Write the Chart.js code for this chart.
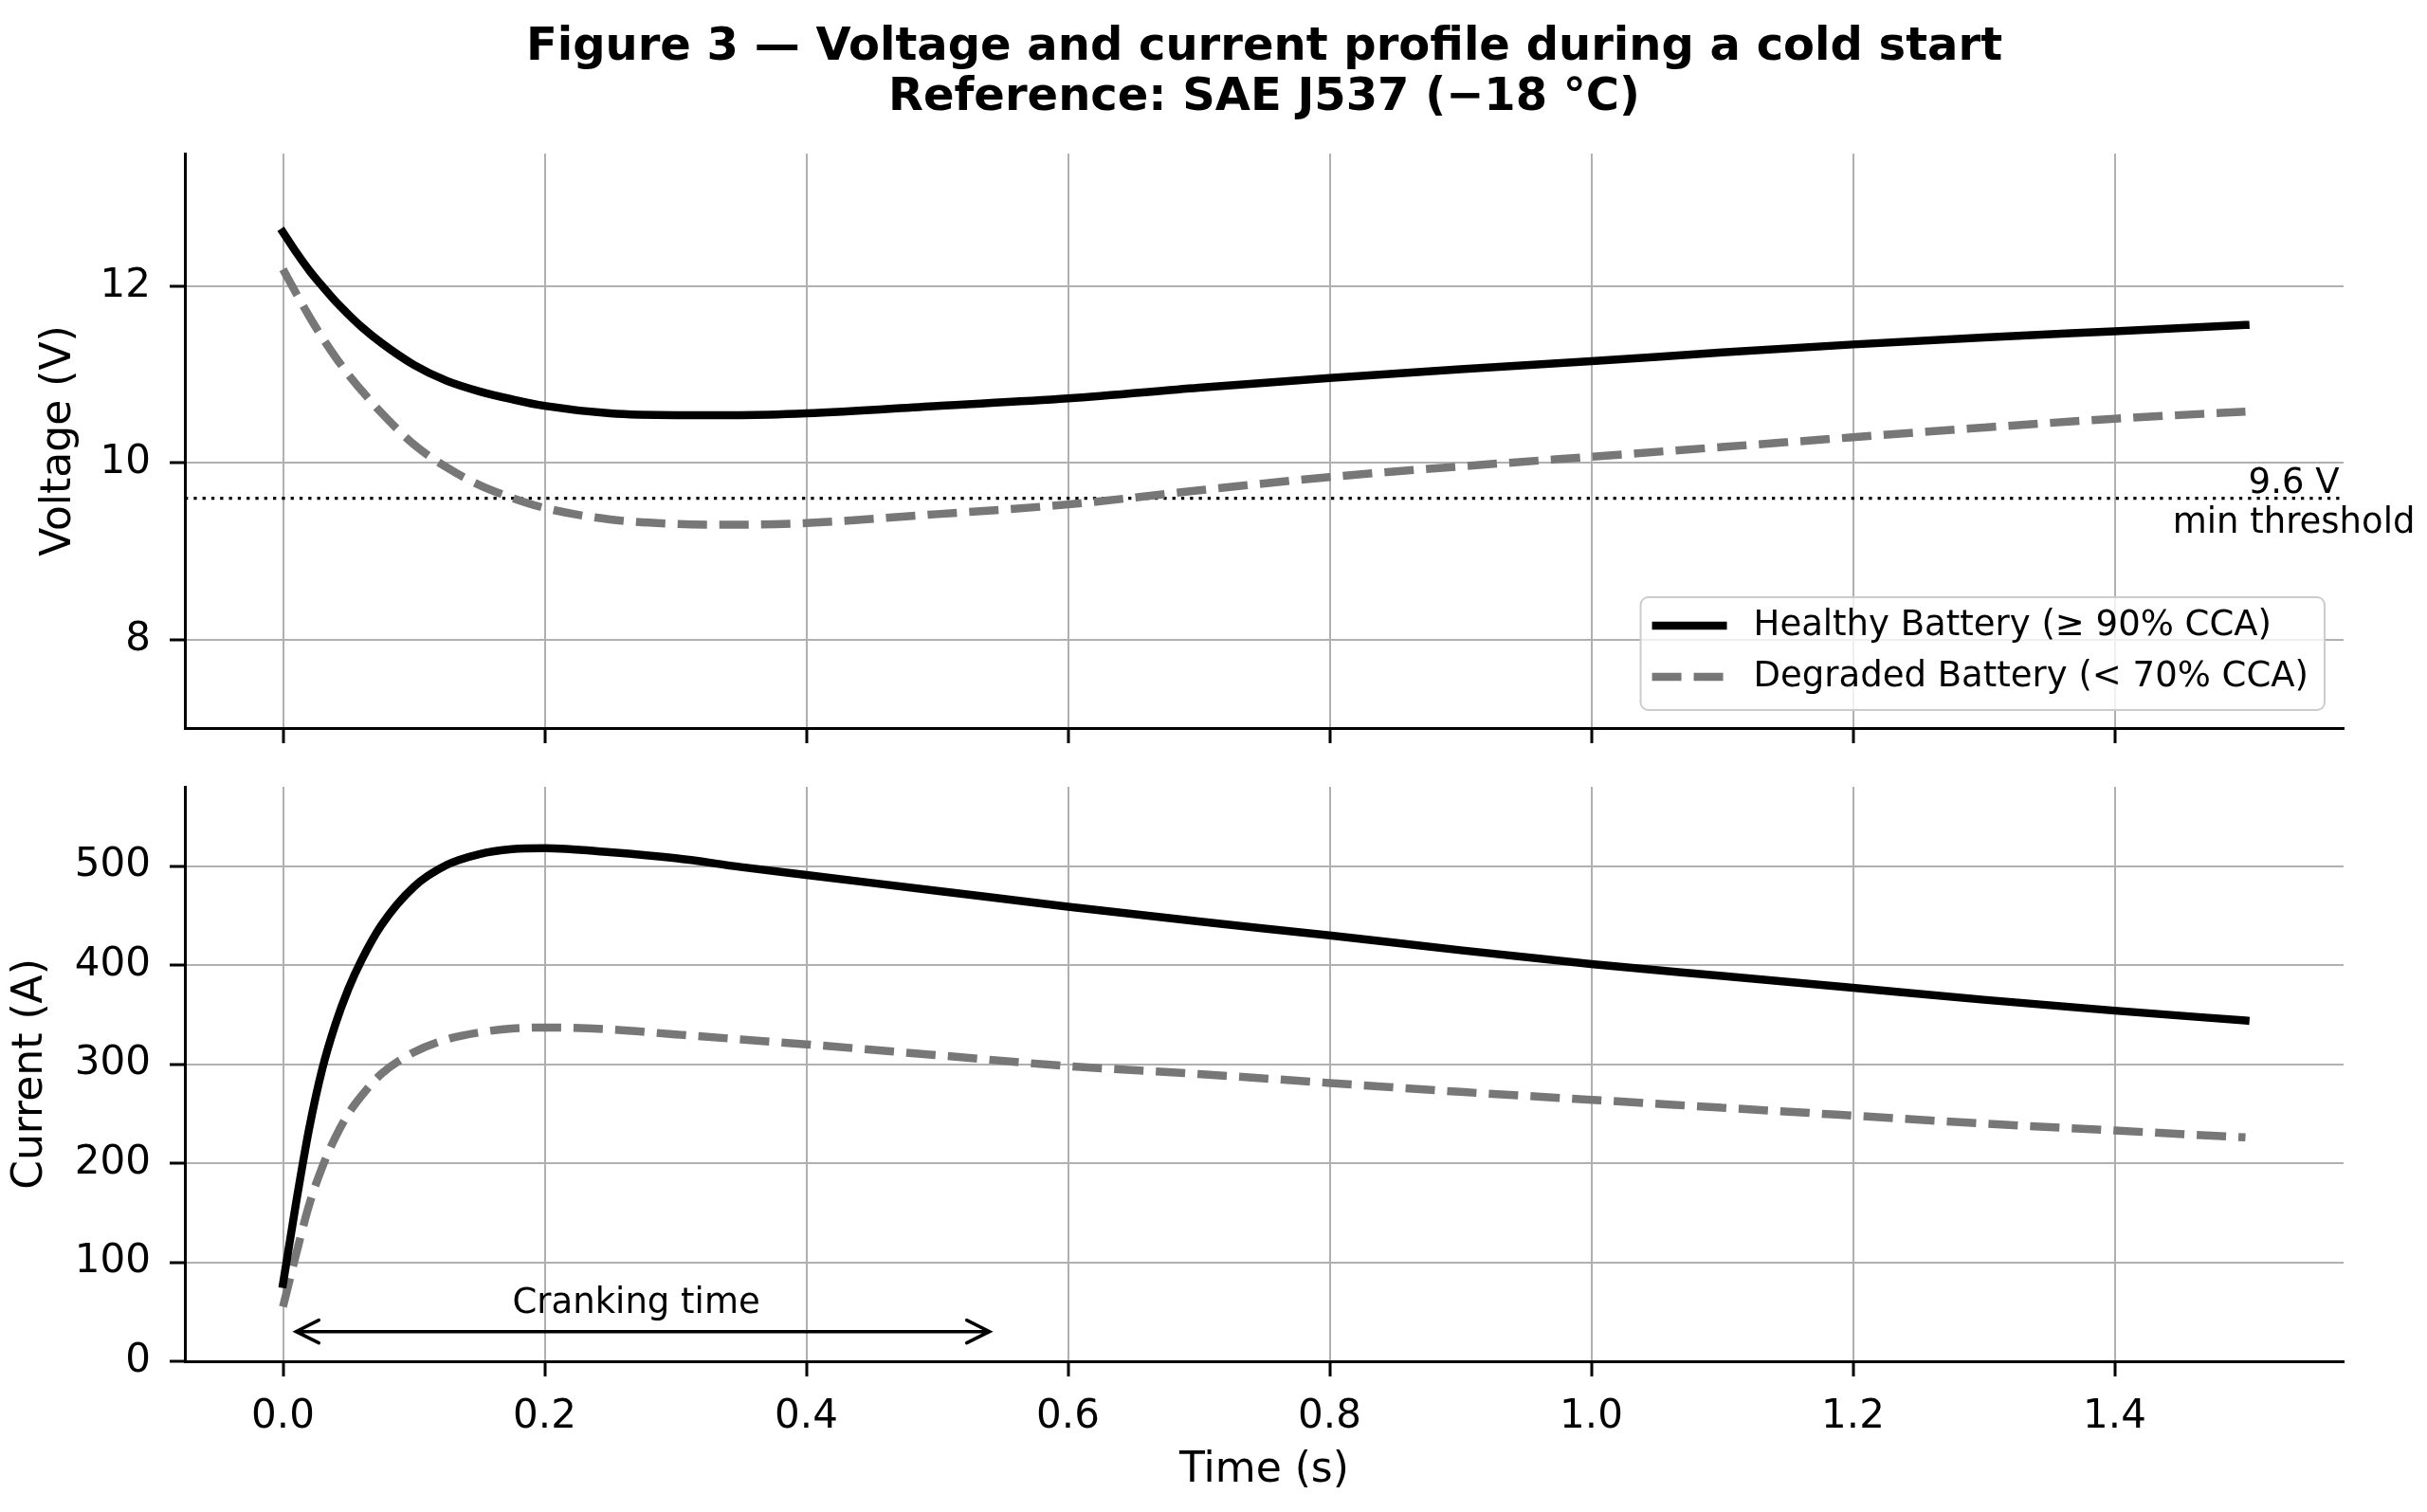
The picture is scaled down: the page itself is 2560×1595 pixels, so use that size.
<!DOCTYPE html>
<html>
<head>
<meta charset="utf-8">
<script src="https://cdn.jsdelivr.net/npm/chart.js@4.4.1/dist/chart.umd.min.js"></script>
<style>
html,body{margin:0;padding:0;background:#fff;}
body{width:2560px;height:1595px;position:relative;overflow:hidden;font-family:'DejaVu Sans',sans-serif;}
#title{position:absolute;left:195px;width:2277px;top:20px;text-align:center;font-weight:bold;font-size:48px;line-height:53px;color:#000;}
#top{position:absolute;left:0;top:0;}
#bot{position:absolute;left:0;top:800px;}
</style>
</head>
<body>
<canvas id="top" width="2560" height="800"></canvas>
<canvas id="bot" width="2560" height="795"></canvas>
<div id="title">Figure 3 — Voltage and current profile during a cold start<br>Reference: SAE J537 (−18 °C)</div>
<script>
// time axis (s) and the four traces
const TIME       = [0,0.01,0.02,0.03,0.04,0.05,0.06,0.075,0.1,0.125,0.15,0.175,0.2,0.25,0.3,0.35,0.4,0.5,0.6,0.7,0.8,0.9,1.0,1.1,1.2,1.3,1.4,1.5];
const V_HEALTHY  = [12.61,12.385,12.18,12.00,11.83,11.68,11.54,11.36,11.11,10.93,10.81,10.72,10.645,10.56,10.54,10.54,10.56,10.645,10.73,10.85,10.96,11.06,11.15,11.25,11.34,11.42,11.49,11.56];
const V_DEGRADED = [12.19,11.92,11.66,11.42,11.20,11.00,10.82,10.57,10.21,9.95,9.75,9.605,9.49,9.36,9.31,9.30,9.32,9.42,9.53,9.69,9.84,9.96,10.07,10.18,10.29,10.40,10.50,10.58];
const I_HEALTHY  = [78,160,235,295,340,376,405,440,479,501,512,517,518,514,508,499,491,475,459,444,430,415,401,389,377,365,354,344];
const I_DEGRADED = [55,108,158,196,226,250,268,290,312,325,332,336,337,335,330,325,320,309,298,290,281,272,264,256,248,240,233,226];

const SERIES     = ['Healthy Battery (≥ 90% CCA)','Degraded Battery (< 70% CCA)'];
const TIME_TICKS = [0,0.2,0.4,0.6,0.8,1.0,1.2,1.4];
const VOLT_TICKS = [8,10,12];
const AMP_TICKS  = [0,100,200,300,400,500];

const V_MIN = 9.6;            // threshold voltage
const V_MIN_LABEL_X = 1.537;
const CRANK = [0.01,0.54];    // cranking window arrow (s)
const CRANK_Y = 30;
const CRANK_LABEL_X = 0.27;

Chart.defaults.font.family = "'DejaVu Sans'";
Chart.defaults.color = '#000';

const pts = ys => TIME.map((t,i)=>({x:t,y:ys[i]}));
const HEALTHY_STYLE  = {borderColor:'#000',borderWidth:8.5,borderCapStyle:'square'};
const DEGRADED_STYLE = {borderColor:'#777',borderWidth:8.5,borderDash:[31,13],borderCapStyle:'butt'};
const GRID   = {color:'#b0b0b0',lineWidth:2,tickColor:'#000',tickWidth:3,tickLength:16};
const BORDER = {color:'#000',width:3};

function xScale(labels){
  return {type:'linear',min:-0.075,max:1.575,
    afterBuildTicks:s=>{s.ticks=TIME_TICKS.map(v=>({value:v}));},
    afterFit:s=>{s.height=labels?159:32;s.paddingLeft=0;s.paddingRight=0;},
    grid:GRID,border:BORDER,
    ticks:{display:labels,autoSkip:false,maxRotation:0,padding:18,font:{size:42},color:'#000',callback:v=>v.toFixed(1)},
    title:{display:labels,text:'Time (s)',font:{size:44},color:'#000',padding:{top:0,bottom:17}}};
}
function yScale(min,max,ticks,label,pad){
  return {type:'linear',min:min,max:max,
    afterBuildTicks:s=>{s.ticks=ticks.map(v=>({value:v}));},
    afterFit:s=>{s.width=195;s.paddingTop=0;s.paddingBottom=0;},
    grid:GRID,border:BORDER,
    ticks:{autoSkip:false,padding:20,font:{size:42},color:'#000',callback:v=>String(v)},
    title:{display:true,text:label,font:{size:44},color:'#000',padding:{top:pad,bottom:0}}};
}

const threshold = {
  id:'threshold',
  beforeDatasetsDraw(chart){
    const {ctx,chartArea:a,scales:{y}} = chart;
    const py = y.getPixelForValue(V_MIN);
    ctx.save();
    ctx.strokeStyle='#000';ctx.lineWidth=3.3;ctx.setLineDash([3.3,6]);
    ctx.beginPath();ctx.moveTo(a.left,py);ctx.lineTo(a.right,py);ctx.stroke();
    ctx.restore();
  },
  afterDraw(chart){
    const {ctx,scales:{x,y}} = chart;
    const px = x.getPixelForValue(V_MIN_LABEL_X), py = y.getPixelForValue(V_MIN);
    ctx.save();
    ctx.font="37px 'DejaVu Sans'";ctx.fillStyle='#000';ctx.textAlign='center';ctx.textBaseline='alphabetic';
    ctx.fillText(V_MIN.toFixed(1)+' V',px,py-6);
    ctx.fillText('min threshold',px,py+36);
    ctx.restore();
  }
};

const legendBox = {
  id:'legendBox',
  afterDatasetsDraw(chart){
    const {ctx,chartArea:a} = chart;
    const sets = chart.data.datasets;
    ctx.save();
    ctx.font="37px 'DejaVu Sans'";
    const tw = Math.max(...sets.map(d=>ctx.measureText(d.label).width));
    const w = 12+79+28+tw+17, h = 119;
    const x = a.right-20-w, y = a.bottom-19-h;
    ctx.beginPath();ctx.roundRect(x,y,w,h,8);
    ctx.fillStyle='rgba(255,255,255,0.8)';ctx.fill();
    ctx.strokeStyle='#cccccc';ctx.lineWidth=2;ctx.stroke();
    sets.forEach((d,i)=>{
      const cy = y+30+i*54;
      const cap = d.borderCapStyle==='square'?d.borderWidth/2:0;
      ctx.beginPath();ctx.setLineDash(d.borderDash||[]);ctx.lineCap=d.borderCapStyle;
      ctx.strokeStyle=d.borderColor;ctx.lineWidth=d.borderWidth;
      ctx.moveTo(x+12+cap,cy);ctx.lineTo(x+91-cap,cy);ctx.stroke();
      ctx.setLineDash([]);
      ctx.fillStyle='#000';ctx.textAlign='left';ctx.textBaseline='middle';
      ctx.fillText(d.label,x+119,cy);
    });
    ctx.restore();
  }
};

const crank = {
  id:'crank',
  afterDatasetsDraw(chart){
    const {ctx,scales:{x,y}} = chart;
    const x0 = x.getPixelForValue(CRANK[0]), x1 = x.getPixelForValue(CRANK[1]), py = y.getPixelForValue(CRANK_Y);
    ctx.save();
    ctx.strokeStyle='#000';ctx.lineWidth=3.5;ctx.lineCap='round';ctx.lineJoin='miter';
    ctx.beginPath();
    ctx.moveTo(x0,py);ctx.lineTo(x1,py);
    ctx.moveTo(x0+24,py-12);ctx.lineTo(x0,py);ctx.lineTo(x0+24,py+12);
    ctx.moveTo(x1-24,py-12);ctx.lineTo(x1,py);ctx.lineTo(x1-24,py+12);
    ctx.stroke();
    ctx.font="37px 'DejaVu Sans'";ctx.fillStyle='#000';ctx.textAlign='center';ctx.textBaseline='alphabetic';
    ctx.fillText('Cranking time',x.getPixelForValue(CRANK_LABEL_X),py-20);
    ctx.restore();
  }
};

const baseOptions = {
  responsive:false,animation:false,devicePixelRatio:1,
  elements:{point:{radius:0},line:{cubicInterpolationMode:'monotone',fill:false}},
  plugins:{legend:{display:false},tooltip:{enabled:false}}
};

new Chart(document.getElementById('top'),{
  type:'line',
  data:{datasets:[
    {label:SERIES[0],data:pts(V_HEALTHY),...HEALTHY_STYLE},
    {label:SERIES[1],data:pts(V_DEGRADED),...DEGRADED_STYLE}
  ]},
  options:{...baseOptions,
    layout:{autoPadding:false,padding:{top:162,right:88,left:0,bottom:0}},
    scales:{x:xScale(false),y:yScale(7,13.5,VOLT_TICKS,'Voltage (V)',36.6)}},
  plugins:[threshold,legendBox]
});

new Chart(document.getElementById('bot'),{
  type:'line',
  data:{datasets:[
    {label:SERIES[0],data:pts(I_HEALTHY),...HEALTHY_STYLE},
    {label:SERIES[1],data:pts(I_DEGRADED),...DEGRADED_STYLE}
  ]},
  options:{...baseOptions,
    layout:{autoPadding:false,padding:{top:30,right:88,left:0,bottom:0}},
    scales:{x:xScale(true),y:yScale(0,580,AMP_TICKS,'Current (A)',6.6)}},
  plugins:[crank]
});
</script>
</body>
</html>
